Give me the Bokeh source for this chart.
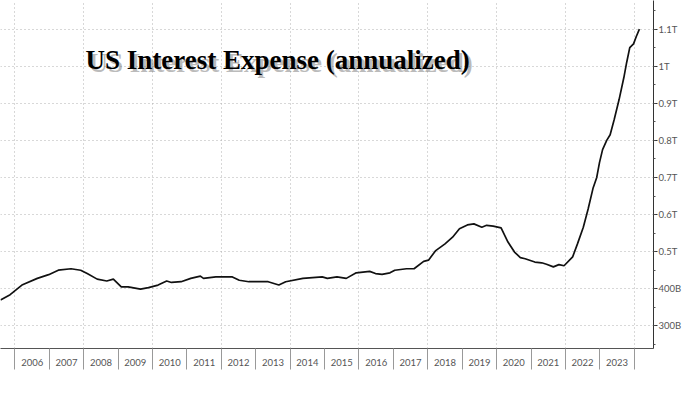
from bokeh.plotting import figure
from bokeh.models import FixedTicker, Label, LinearAxis, Range1d
from bokeh.embed import file_html
from bokeh.resources import INLINE

# --- data (time in fractional years, value in $ billions)
t = [2005.58, 2005.86, 2006.22, 2006.65, 2006.98, 2007.26, 2007.63, 2007.91, 2008.10, 2008.39,
     2008.67, 2008.86, 2009.09, 2009.29, 2009.65, 2009.88, 2010.16, 2010.41, 2010.55, 2010.83,
     2011.11, 2011.39, 2011.48, 2011.84, 2012.32, 2012.52, 2012.80, 2013.36, 2013.67, 2013.87,
     2014.37, 2014.93, 2015.08, 2015.36, 2015.63, 2015.92, 2016.31, 2016.48, 2016.67, 2016.90,
     2017.04, 2017.38, 2017.60, 2017.88, 2018.02, 2018.22, 2018.50, 2018.72, 2018.92, 2019.15,
     2019.34, 2019.57, 2019.71, 2019.90, 2020.13, 2020.33, 2020.52, 2020.69, 2020.83, 2021.11,
     2021.31, 2021.45, 2021.65, 2021.81, 2021.96, 2022.21, 2022.35, 2022.52, 2022.66, 2022.80,
     2022.91, 2022.99, 2023.08, 2023.20, 2023.30, 2023.42, 2023.56, 2023.70, 2023.78, 2023.87,
     2023.98, 2024.06, 2024.15]
interest_expense = [370, 384, 411, 428, 438, 450, 454, 450, 441, 426,
                    421, 426, 405, 405, 399, 403, 410, 421, 417, 419,
                    428, 434, 428, 432, 432, 423, 419, 419, 410, 419,
                    428, 432, 428, 432, 428, 443, 447, 441, 439, 443,
                    450, 454, 454, 474, 477, 502, 521, 539, 562, 572,
                    575, 566, 571, 569, 564, 526, 499, 484, 481, 472,
                    470, 466, 459, 465, 462, 486, 521, 566, 615, 670,
                    700, 740, 775, 800, 815, 857, 910, 970, 1010, 1050,
                    1060, 1080, 1100]

year_labels = [str(y) for y in range(2006, 2024)]
y_ticks = [300, 400, 500, 600, 700, 800, 900, 1000, 1100]
y_tick_labels = ["300B", "400B", "0.5T", "0.6T", "0.7T", "0.8T", "0.9T", "1T", "1.1T"]
title_text = "US Interest Expense (annualized)"

p = figure(width=684, height=378, output_backend="svg", toolbar_location=None,
           x_range=Range1d(2005.58, 2024.56), y_range=Range1d(239, 1177),
           y_axis_location=None)
p.min_border_left = 0
p.min_border_top = 0
p.min_border_right = 24
p.min_border_bottom = 30
p.outline_line_color = None
p.background_fill_color = "white"
p.border_fill_color = "white"

# line
p.line(t, interest_expense, line_color="#111111", line_width=1.7)

# right axis
yaxis = LinearAxis(ticker=FixedTicker(ticks=y_ticks,
                                      minor_ticks=[250 + 50 * i for i in range(19)]))
yaxis.major_label_overrides = {v: s for v, s in zip(y_ticks, y_tick_labels)}
yaxis.axis_line_color = "#333333"
yaxis.axis_line_width = 1
yaxis.major_tick_line_color = "#333333"
yaxis.major_tick_out = 4
yaxis.major_tick_in = 0
yaxis.minor_tick_line_color = "#555555"
yaxis.minor_tick_out = 2
yaxis.minor_tick_in = 0
yaxis.major_label_standoff = 1
yaxis.major_label_text_font = "Lato"
yaxis.major_label_text_font_size = "9.5px"
yaxis.major_label_text_color = "#555555"
p.add_layout(yaxis, "right")

# bottom axis: labels at mid-year, separators at year boundaries
xa = p.xaxis[0]
xa.ticker = FixedTicker(ticks=[y + 0.5 for y in range(2006, 2024)],
                        minor_ticks=list(range(2005, 2025)))
xa.major_label_overrides = {y + 0.5: s for y, s in zip(range(2006, 2024), year_labels)}
xa.major_tick_line_color = None
xa.major_tick_out = 0
xa.major_tick_in = 0
xa.minor_tick_line_color = "#999999"
xa.minor_tick_out = 21
xa.minor_tick_in = 0
xa.axis_line_color = "#555555"
xa.major_label_standoff = -11
xa.major_label_text_font = "Lato"
xa.major_label_text_font_size = "9.5px"
xa.major_label_text_color = "#555555"

# grids
p.ygrid.ticker = FixedTicker(ticks=y_ticks)
p.ygrid.grid_line_color = "#b0b0b0"
p.ygrid.grid_line_dash = "1 3"
p.xgrid.ticker = FixedTicker(ticks=list(range(2006, 2025, 2)))
p.xgrid.grid_line_color = "#b0b0b0"
p.xgrid.grid_line_dash = "1 3"

# title with shadow
shadow = Label(x=2008.05, y=1016, x_offset=3, y_offset=-3, text=title_text,
               text_font="Liberation Serif", text_font_style="bold",
               text_font_size="27px", text_color="#777777", text_alpha=0.5,
               text_baseline="alphabetic")
p.add_layout(shadow)
title = Label(x=2008.05, y=1016, text=title_text,
              text_font="Liberation Serif", text_font_style="bold",
              text_font_size="27px", text_color="#000000",
              text_baseline="alphabetic")
p.add_layout(title)

open("out.html", "w").write(file_html(p, INLINE))
